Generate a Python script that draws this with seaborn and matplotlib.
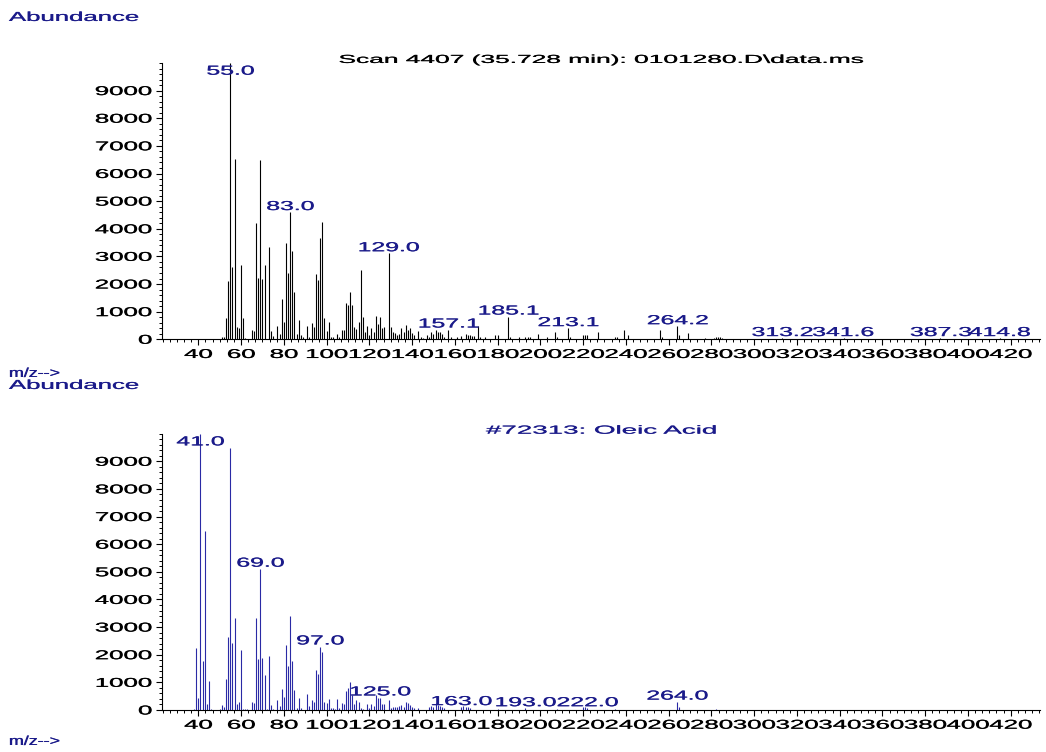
# cargar librerias
import seaborn as sns
import matplotlib
matplotlib.use("Agg")
import matplotlib.pyplot as plt
from matplotlib.patheffects import AbstractPathEffect
from matplotlib.transforms import Affine2D
from matplotlib.ticker import MultipleLocator

# espectro de la muestra (scan 4407)
scan_mz = [51, 52, 53, 54, 55, 56, 57, 58, 59, 60, 61, 62, 65, 66, 67, 68, 69, 70,
           71, 73, 74, 75, 77, 78, 79, 80, 81, 82, 83, 84, 85, 86, 87, 88, 89, 91,
           92, 93, 94, 95, 96, 97, 98, 99, 100, 101, 102, 103, 105, 106, 107, 108,
           109, 110, 111, 112, 113, 114, 115, 116, 117, 118, 119, 120, 121, 122,
           123, 124, 125, 126, 127, 129, 130, 131, 132, 133, 134, 135, 136, 137,
           138, 139, 140, 141, 143, 144, 145, 147, 148, 149, 150, 151, 152, 153,
           154, 155, 157, 158, 161, 163, 165, 166, 167, 168, 169, 171, 172, 174,
           179, 180, 185, 186, 190, 193, 194, 195, 199, 203, 207, 208, 213, 214,
           220, 221, 222, 227, 235, 236, 239, 241, 256, 257, 264, 265, 269, 277,
           281, 282, 283, 284, 285, 313, 342, 387, 415]
scan_ab = [100, 80, 760, 2110, 10000, 2630, 6530, 430, 410, 2690, 760, 60, 340, 300,
           4220, 2230, 6490, 2200, 2690, 3330, 300, 120, 480, 180, 1450, 640, 3480,
           2400, 4600, 3200, 1720, 200, 700, 150, 100, 480, 80, 580, 460, 2350, 2150,
           3680, 4260, 760, 300, 630, 100, 80, 200, 80, 350, 330, 1300, 1250, 1720,
           1250, 460, 380, 610, 2510, 800, 250, 480, 150, 420, 250, 830, 570, 800,
           420, 450, 3110, 430, 280, 220, 160, 180, 400, 280, 500, 350, 400, 220,
           160, 300, 100, 60, 160, 100, 280, 200, 350, 280, 250, 200, 100, 350, 80,
           100, 120, 200, 160, 160, 120, 120, 470, 80, 80, 160, 160, 820, 80, 80,
           100, 100, 100, 200, 100, 250, 100, 400, 80, 160, 160, 160, 250, 100, 80,
           330, 160, 330, 80, 470, 160, 220, 60, 60, 70, 70, 70, 60, 40, 40, 40, 40]
scan_etiquetas = [55.0, 83.0, 129.0, 157.1, 185.1, 213.1, 264.2, 313.2, 341.6,
                  387.3, 414.8]

# espectro de referencia (acido oleico)
lib_mz = [38, 39, 40, 41, 42, 43, 44, 45, 46, 50, 51, 52, 53, 54, 55, 56, 57, 58,
          59, 60, 61, 62, 63, 65, 66, 67, 68, 69, 70, 71, 72, 73, 74, 75, 77, 78,
          79, 80, 81, 82, 83, 84, 85, 86, 87, 88, 91, 92, 93, 94, 95, 96, 97, 98,
          99, 100, 101, 102, 103, 104, 105, 106, 107, 108, 109, 110, 111, 112, 113,
          114, 115, 116, 117, 119, 120, 121, 122, 123, 124, 125, 126, 127, 129, 130,
          131, 132, 133, 134, 135, 136, 137, 138, 139, 140, 141, 143, 148, 149, 150,
          151, 152, 153, 154, 155, 163, 164, 165, 166, 167, 180, 193, 208, 220, 221,
          222, 235, 264, 265, 282]
lib_ab = [25, 2235, 420, 9999, 1775, 6490, 220, 1050, 25, 25, 180, 100, 1110, 2660,
          9480, 2420, 3320, 220, 300, 2170, 25, 25, 25, 280, 240, 3320, 1850, 5110,
          1885, 1270, 40, 1960, 180, 50, 360, 145, 760, 480, 2355, 1610, 3420, 1775,
          725, 60, 420, 60, 570, 145, 360, 300, 1450, 1300, 2295, 2115, 300, 240, 400,
          60, 60, 50, 400, 60, 240, 205, 700, 785, 1030, 545, 220, 360, 300, 60, 50,
          220, 60, 220, 145, 545, 420, 450, 220, 220, 360, 60, 100, 100, 100, 145, 180,
          120, 300, 240, 180, 100, 60, 60, 100, 145, 100, 240, 180, 145, 100, 60, 100,
          145, 100, 100, 60, 40, 60, 40, 100, 100, 60, 40, 300, 120, 40]
lib_etiquetas = [41.0, 69.0, 97.0, 125.0, 163.0, 193.0, 222.0, 264.0]

ticks_x = list(range(40, 421, 20))
ticks_y = list(range(0, 9001, 1000))

AZUL = "#1b1b8a"
AZUL_BARRA = "#2a2aa5"
W, H = 1046, 752


class Ancho(AbstractPathEffect):
    """Ensancha el texto en horizontal (la fuente del original sale estirada)."""

    def __init__(self, sx, ancla="center", grueso=0.7):
        super().__init__()
        self.sx = sx
        self.ancla = ancla
        self.grueso = grueso

    def draw_path(self, renderer, gc, tpath, affine, rgbFace=None):
        xs = tpath.vertices[:, 0]
        if len(xs) == 0:
            return
        if self.ancla == "left":
            x0 = 0.0
        elif self.ancla == "right":
            x0 = xs.max()
        else:
            x0 = (xs.min() + xs.max()) / 2
        t = Affine2D().translate(-x0, 0).scale(self.sx, 1).translate(x0, 0) + affine
        # dos pasadas desplazadas para engordar los trazos verticales
        renderer.draw_path(gc, tpath, t + Affine2D().translate(-self.grueso / 2, 0), rgbFace)
        renderer.draw_path(gc, tpath, t + Affine2D().translate(self.grueso / 2, 0), rgbFace)


sns.set_style("ticks")
plt.rcParams["font.family"] = ["Liberation Sans", "DejaVu Sans"]
plt.rcParams["axes.linewidth"] = 0.8
plt.rcParams["axes.edgecolor"] = "black"


def dibujar_panel(ax, mz, ab, etiquetas, color, titulo, color_titulo, sx_titulo):
    ax.vlines(mz, 0, ab, colors=color, linewidth=0.8, clip_on=False)
    ax.set_xlim(22.9, 433.7)
    ax.set_ylim(0, 10000)
    sns.despine(ax=ax)
    ax.set_xticks(ticks_x)
    ax.set_yticks(ticks_y)
    ax.xaxis.set_minor_locator(MultipleLocator(20 / 6))
    ax.yaxis.set_minor_locator(MultipleLocator(200))
    ax.tick_params(which="major", length=4.5, width=0.8, color="black",
                   labelsize=9.3, labelcolor="black", pad=2.5)
    ax.tick_params(which="minor", length=2.3, width=0.7, color="black")
    for t in ax.get_xticklabels():
        t.set_path_effects([Ancho(2.0)])
    for t in ax.get_yticklabels():
        t.set_path_effects([Ancho(2.0, "right")])

    # etiquetas de los picos
    alturas = dict(zip(mz, ab))
    for m in etiquetas:
        h = alturas[int(round(m))]
        ax.annotate(f"{m:.1f}", (m, min(h, 9500)), xytext=(0, 1.5),
                    textcoords="offset points", ha="center", va="baseline",
                    color=AZUL, fontsize=9.5, path_effects=[Ancho(1.88)],
                    annotation_clip=False)

    ax.text(0.5, 1.0, titulo, transform=ax.transAxes, ha="center",
            va="baseline", color=color_titulo, fontsize=8.5,
            path_effects=[Ancho(sx_titulo)])


fig = plt.figure(figsize=(W / 100, H / 100), dpi=100)
izq, ancho, alto = 161.7 / W, 878.3 / W, 276.3 / H
ax1 = fig.add_axes([izq, 1 - 339.3 / H, ancho, alto])
ax2 = fig.add_axes([izq, 1 - 710.0 / H, ancho, alto])

dibujar_panel(ax1, scan_mz, scan_ab, scan_etiquetas, "black",
              "Scan 4407 (35.728 min): 0101280.D\\data.ms", "black", 2.23)
dibujar_panel(ax2, lib_mz, lib_ab, lib_etiquetas, AZUL_BARRA,
              "#72313: Oleic Acid", AZUL, 2.35)

# textos de los ejes, fuera de los paneles
for texto, yb, sx in [("Abundance", 21, 1.95), ("m/z-->", 377, 1.35),
                      ("Abundance", 389, 1.95), ("m/z-->", 745, 1.35)]:
    fig.text(9 / W, 1 - yb / H, texto, ha="left", va="baseline", color=AZUL,
             fontsize=9.5, path_effects=[Ancho(sx, "left")])

fig.savefig("out.png", dpi=100)
plt.close(fig)
